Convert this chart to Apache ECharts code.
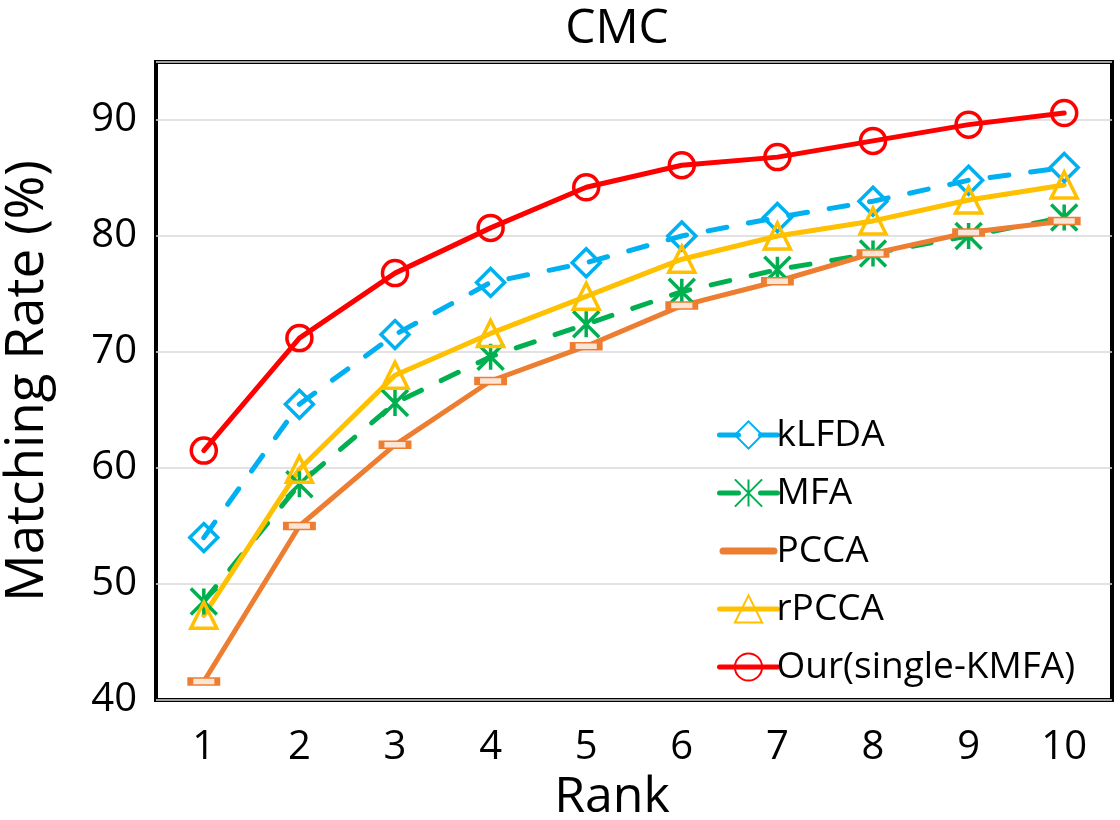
<!DOCTYPE html>
<html>
<head>
<meta charset="utf-8">
<script src="https://cdn.jsdelivr.net/npm/echarts@6/dist/echarts.min.js"></script>
<style>
html,body{margin:0;padding:0;background:#fff;}
#chart{width:1120px;height:820px;}
</style>
</head>
<body>
<div id="chart"></div>
<script>
var ranks = ['1','2','3','4','5','6','7','8','9','10'];
var yTicks = [40, 50, 60, 70, 80, 90];
var kLFDA = [54.0, 65.5, 71.5, 76.0, 77.7, 80.0, 81.6, 83.0, 84.8, 85.9];
var MFA   = [48.5, 58.6, 65.6, 69.6, 72.4, 75.2, 77.1, 78.5, 80.0, 81.6];
var PCCA  = [41.6, 55.0, 62.0, 67.5, 70.5, 74.0, 76.1, 78.5, 80.3, 81.3];
var rPCCA = [47.3, 59.9, 68.0, 71.6, 74.8, 78.0, 80.0, 81.3, 83.1, 84.4];
var Our   = [61.5, 71.2, 76.8, 80.7, 84.2, 86.1, 86.8, 88.2, 89.6, 90.6];

var FONT = '"Open Sans", "Noto Sans", sans-serif';
var CLEAR = 'rgba(0,0,0,0)';
var STAR = 'path://M10,0L10,20M0,0L20,20M0,20L20,0';
var LW = 5;

function mk(name, data, color, symbol, size, dashed, itemStyle) {
  return {
    name: name, type: 'line', data: data,
    symbol: symbol, symbolSize: size,
    lineStyle: {color: color, width: LW, type: dashed ? [19, 22] : 'solid', cap: 'round', join: 'round'},
    itemStyle: itemStyle,
    emphasis: {disabled: true},
    animation: false
  };
}

var chart = echarts.init(document.getElementById('chart'));
chart.setOption({
  backgroundColor: '#fff',
  title: {
    text: 'CMC', left: 612, textAlign: 'center', top: 0,
    textStyle: {fontFamily: FONT, fontSize: 48, fontWeight: 'normal', color: '#000'}
  },
  grid: {left: 156, right: 8, top: 62, bottom: 120, show: true, borderColor: '#000', borderWidth: 4,
         containLabel: false, outerBoundsMode: 'none'},
  legend: {
    orient: 'vertical', left: 712, top: 411,
    itemWidth: 58, itemHeight: 34, itemGap: 20,
    lineStyle: {width: LW},
    textStyle: {fontFamily: FONT, fontSize: 37, color: '#000', lineHeight: 38, padding: [0, 0, 0, -6]},
    data: [
      'kLFDA', 'MFA',
      {name: 'PCCA', icon: 'path://M3.5,0L54.5,0A3.5,3.5,0,0,1,54.5,7L3.5,7A3.5,3.5,0,0,1,3.5,0Z', itemStyle: {color: '#ED7D31', borderWidth: 0}},
      'rPCCA', 'Our(single-KMFA)'
    ]
  },
  xAxis: {
    type: 'category', data: ranks, boundaryGap: true,
    name: 'Rank', nameLocation: 'middle', nameGap: 69,
    nameTextStyle: {fontFamily: FONT, fontSize: 50, color: '#000', padding: [0, 44, 0, 0]},
    axisLine: {show: false}, axisTick: {show: false},
    axisLabel: {fontFamily: FONT, fontSize: 40, color: '#000', margin: 28}
  },
  yAxis: {
    type: 'value', min: yTicks[0], max: 95, interval: 10,
    name: 'Matching Rate (%)', nameLocation: 'middle', nameGap: 102, nameRotate: 90,
    nameTextStyle: {fontFamily: FONT, fontSize: 53, color: '#000'},
    axisLine: {show: false}, axisTick: {show: false},
    axisLabel: {fontFamily: FONT, fontSize: 40, color: '#000', margin: 19, showMaxLabel: false},
    splitLine: {lineStyle: {color: '#d9d9d9', width: 1.5}}
  },
  series: [
    mk('kLFDA', kLFDA, '#00B0F0', 'diamond', 28, true, {color: CLEAR, borderColor: '#00B0F0', borderWidth: 3.5}),
    mk('MFA', MFA, '#00B050', STAR, 26, true, {color: CLEAR, borderColor: '#00B050', borderWidth: 3.5}),
    mk('PCCA', PCCA, '#ED7D31', 'rect', [27, 7], false, {color: '#fbe5d6', borderColor: '#ED7D31', borderWidth: 3}),
    mk('rPCCA', rPCCA, '#FFC000', 'triangle', 26, false, {color: CLEAR, borderColor: '#FFC000', borderWidth: 3.5}),
    mk('Our(single-KMFA)', Our, '#FF0000', 'circle', 25, false, {color: CLEAR, borderColor: '#FF0000', borderWidth: 3.5})
  ]
});
</script>
</body>
</html>
